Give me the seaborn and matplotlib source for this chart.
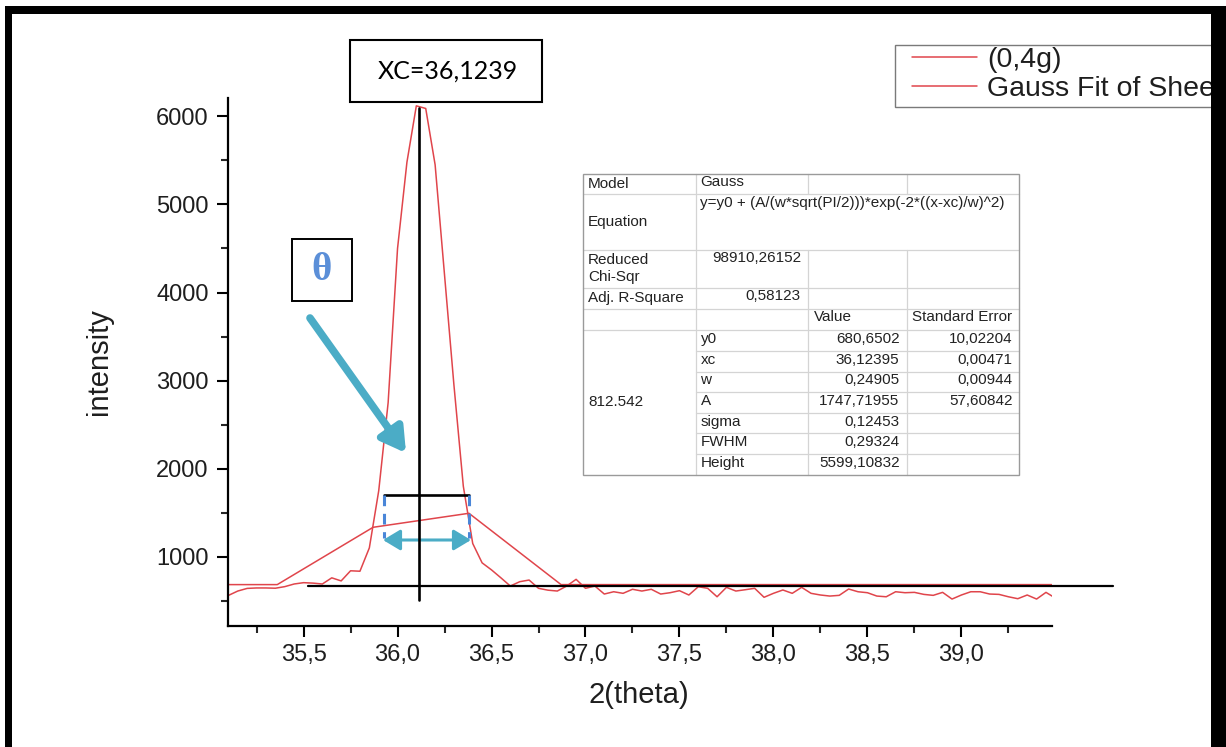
import numpy as np
import pandas as pd
import matplotlib
matplotlib.use("Agg")
import matplotlib.pyplot as plt
import seaborn as sns
from matplotlib.patches import Rectangle, FancyArrowPatch

# ---------------- data ----------------
two_theta = [35.10, 35.15, 35.20, 35.25, 35.30, 35.35, 35.40, 35.45, 35.50, 35.55,
             35.60, 35.65, 35.70, 35.75, 35.80, 35.85, 35.90, 35.95, 36.00, 36.05,
             36.10, 36.15, 36.20, 36.25, 36.30, 36.35, 36.40, 36.45, 36.50, 36.55,
             36.60, 36.65, 36.70, 36.75, 36.80, 36.85, 36.90, 36.95, 37.00, 37.05,
             37.10, 37.15, 37.20, 37.25, 37.30, 37.35, 37.40, 37.45, 37.50, 37.55,
             37.60, 37.65, 37.70, 37.75, 37.80, 37.85, 37.90, 37.95, 38.00, 38.05,
             38.10, 38.15, 38.20, 38.25, 38.30, 38.35, 38.40, 38.45, 38.50, 38.55,
             38.60, 38.65, 38.70, 38.75, 38.80, 38.85, 38.90, 38.95, 39.00, 39.05,
             39.10, 39.15, 39.20, 39.25, 39.30, 39.35, 39.40, 39.45, 39.50]
intensity = [560, 610, 640, 645, 645, 642, 660, 690, 705, 700,
             690, 760, 725, 840, 835, 1100, 1750, 2750, 4500, 5480,
             6120, 6090, 5450, 4200, 2950, 1800, 1150, 930, 850, 760,
             667, 716, 735, 641, 620, 610, 667, 743, 641, 667,
             576, 602, 584, 630, 610, 630, 576, 591, 614, 565,
             659, 641, 545, 652, 610, 625, 641, 539, 584, 622,
             584, 652, 584, 565, 553, 561, 633, 602, 591, 553,
             545, 602, 591, 595, 572, 561, 595, 519, 565, 602,
             602, 576, 572, 545, 523, 565, 519, 595, 530]

fit_x = [35.10, 35.36, 35.87, 36.38, 36.87, 39.48]
fit_y = [683, 683, 1334, 1493, 683, 683]

series_labels = ["(0,4g)", "Gauss Fit of Sheet1 B"]

x_ticks = [35.5, 36.0, 36.5, 37.0, 37.5, 38.0, 38.5, 39.0]
x_tick_labels = ["35,5", "36,0", "36,5", "37,0", "37,5", "38,0", "38,5", "39,0"]
x_minor = [35.25, 35.75, 36.25, 36.75, 37.25, 37.75, 38.25, 38.75, 39.25]
y_ticks = [1000, 2000, 3000, 4000, 5000, 6000]
y_tick_labels = ["1000", "2000", "3000", "4000", "5000", "6000"]
y_minor = [500, 1500, 2500, 3500, 4500, 5500]

x_label = "2(theta)"
y_label = "intensity"
xc_text = "XC=36,1239"
theta_text = "θ"

table_model = "Gauss"
table_equation = "y=y0 + (A/(w*sqrt(PI/2)))*exp(-2*((x-xc)/w)^2)"
table_chi = "98910,26152"
table_r2 = "0,58123"
table_group = "812.542"
param_names = ["y0", "xc", "w", "A", "sigma", "FWHM", "Height"]
param_values = ["680,6502", "36,12395", "0,24905", "1747,71955", "0,12453", "0,29324", "5599,10832"]
param_errors = ["10,02204", "0,00471", "0,00944", "57,60842", "", "", ""]

# ---------------- style ----------------
sns.set_style("ticks")
plt.rcParams["font.family"] = ["Liberation Sans", "DejaVu Sans"]

RED = "#e0454b"
CYAN = "#4bacc6"
BLUE = "#4a86d8"
TXT = "#1e1e1e"

W, H = 1226, 747
fig = plt.figure(figsize=(W / 100, H / 100), dpi=100)
fig.patch.set_facecolor("white")

ax_l, ax_r, ax_t, ax_b = 228, 1052, 98, 626
ax = fig.add_axes([ax_l / W, (H - ax_b) / H, (ax_r - ax_l) / W, (ax_b - ax_t) / H])

df = pd.DataFrame({"two_theta": two_theta, "intensity": intensity})
fit_df = pd.DataFrame({"two_theta": fit_x, "intensity": fit_y})
sns.lineplot(data=df, x="two_theta", y="intensity", ax=ax, color=RED, lw=1.1,
             label=series_labels[0], estimator=None)
sns.lineplot(data=fit_df, x="two_theta", y="intensity", ax=ax, color=RED, lw=1.1,
             label=series_labels[1], estimator=None)
handles = ax.get_lines()[:2]
if ax.get_legend() is not None:
    ax.get_legend().remove()

ax.set_xlim(35.098, 39.482)
ax.set_ylim(213, 6209)
ax.set_xticks(x_ticks)
ax.set_xticklabels(x_tick_labels)
ax.set_xticks(x_minor, minor=True)
ax.set_yticks(y_ticks)
ax.set_yticklabels(y_tick_labels)
ax.set_yticks(y_minor, minor=True)
for s in ["top", "right"]:
    ax.spines[s].set_visible(False)
for s in ["left", "bottom"]:
    ax.spines[s].set_linewidth(1.6)
    ax.spines[s].set_color("black")
ax.tick_params(axis="both", which="major", direction="out", length=8, width=1.5,
               labelsize=17, colors="black", labelcolor=TXT)
ax.tick_params(axis="both", which="minor", direction="out", length=5, width=1.5)
ax.tick_params(axis="x", which="major", pad=5)
ax.tick_params(axis="y", which="major", pad=6)
ax.set_xlabel(x_label, fontsize=21, color=TXT)
ax.set_ylabel(y_label, fontsize=21, color=TXT)
ax.xaxis.set_label_coords(0.4988, -0.105)
ax.yaxis.set_label_coords(-0.14, 0.5)
ax.set_facecolor("white")

# ---------------- overlay (annotations, in image pixels) ----------------
ov = fig.add_axes([0, 0, 1, 1], zorder=5)
ov.set_xlim(0, W)
ov.set_ylim(H, 0)
ov.axis("off")
ov.patch.set_alpha(0)

# baseline & center line & bracket
ov.plot([308, 1113], [586, 586], color="black", lw=1.6)
ov.plot([419, 419], [108, 600], color="black", lw=1.9)
ov.plot([384, 468.5], [495.3, 495.3], color="black", lw=1.9)
for xx in [384, 469]:
    ov.plot([xx, xx], [495, 538], color=BLUE, lw=2.2, ls=(0, (3.5, 2.5)))
ov.add_patch(FancyArrowPatch((383, 540), (471, 540),
                             arrowstyle="<|-|>,head_length=0.75,head_width=0.45",
                             mutation_scale=14, lw=2.2, color=CYAN,
                             shrinkA=0, shrinkB=0))
ov.add_patch(FancyArrowPatch((310, 318), (406, 453),
                             arrowstyle="-|>,head_length=0.65,head_width=0.38",
                             mutation_scale=22, lw=5.5, color=CYAN,
                             shrinkA=0, shrinkB=0))

# theta box
ov.add_patch(Rectangle((291.7, 239), 60, 61.7, fill=True, facecolor="white",
                       edgecolor="black", lw=1.4))
ov.text(322, 271, theta_text, ha="center", va="center", fontsize=28,
        fontweight="bold", color="#5b8fd8",
        family=["Liberation Serif", "DejaVu Serif"])

# XC box
ov.add_patch(Rectangle((350, 40), 192, 62, facecolor="white", edgecolor="black", lw=1.5))
ov.text(448, 71, xc_text, ha="center", va="center", fontsize=18,
        family=["Lato", "DejaVu Sans"], color="black")

# ---------------- table ----------------
cols = [583.3, 695.7, 808.3, 906.7, 1019.3]
rows = [174, 194.3, 250, 288.3, 309.3, 330, 350.7, 371.7, 392.3, 413.3, 433.3, 454.3, 475]
GRID = "#d4d4d4"
ov.add_patch(Rectangle((cols[0], rows[0]), cols[-1] - cols[0], rows[-1] - rows[0],
                       facecolor="white", edgecolor="none", zorder=3))
for yy in rows[1:-1]:
    x0 = cols[0] if yy <= 330 else cols[1]
    ov.plot([x0, cols[-1]], [yy, yy], color=GRID, lw=0.9, zorder=4)
ov.plot([cols[1], cols[1]], [rows[0], rows[-1]], color=GRID, lw=0.9, zorder=4)
for xx in cols[2:4]:
    ov.plot([xx, xx], [rows[0], rows[1]], color=GRID, lw=0.9, zorder=4)
    ov.plot([xx, xx], [rows[2], rows[-1]], color=GRID, lw=0.9, zorder=4)
ov.add_patch(Rectangle((cols[0], rows[0]), cols[-1] - cols[0], rows[-1] - rows[0],
                       facecolor="none", edgecolor="#9a9a9a", lw=1.0, zorder=5))

TFS = 11
tkw = dict(fontsize=TFS, color="#222222", zorder=6, va="center")
ov.text(588, 183.5, "Model", ha="left", **tkw)
ov.text(700.5, 181.5, table_model, ha="left", **tkw)
ov.text(700.5, 203, table_equation, ha="left", **tkw)
ov.text(588, 222, "Equation", ha="left", **tkw)
ov.text(588, 260.5, "Reduced", ha="left", **tkw)
ov.text(588, 276.5, "Chi-Sqr", ha="left", **tkw)
ov.text(801, 258, table_chi, ha="right", **tkw)
ov.text(588, 298.3, "Adj. R-Square", ha="left", **tkw)
ov.text(801, 296, table_r2, ha="right", **tkw)
ov.text(814.3, 317, "Value", ha="left", **tkw)
ov.text(911.7, 317, "Standard Error", ha="left", **tkw)
ov.text(588, 401.7, table_group, ha="left", **tkw)
for i, (n, v, e) in enumerate(zip(param_names, param_values, param_errors)):
    yc = (rows[5 + i] + rows[6 + i]) / 2 - 1.5
    ov.text(700.5, yc, n, ha="left", **tkw)
    ov.text(899.5, yc, v, ha="right", **tkw)
    if e:
        ov.text(1012.5, yc, e, ha="right", **tkw)

# ---------------- legend ----------------
ov.add_patch(Rectangle((895, 45), 400, 62, facecolor="white", edgecolor="#7a7a7a",
                       lw=1.0, zorder=7))
leg = ov.legend(handles, series_labels, loc="upper left",
                bbox_to_anchor=(912, 47), bbox_transform=ov.transData,
                fontsize=20.5, frameon=False, handlelength=2.3,
                handletextpad=0.33, labelspacing=0.12, borderpad=0.0,
                borderaxespad=0)
for t in leg.get_texts():
    t.set_color(TXT)
leg.set_zorder(8)

# ---------------- frame border ----------------
bkw = dict(facecolor="black", edgecolor="none", zorder=20)
ov.add_patch(Rectangle((5, 6), W - 5, 8, **bkw))
ov.add_patch(Rectangle((5, 6), 7, H - 6, **bkw))
ov.add_patch(Rectangle((1211, 6), W - 1211, H - 6, **bkw))

fig.savefig("out.png", dpi=100, facecolor="white")
